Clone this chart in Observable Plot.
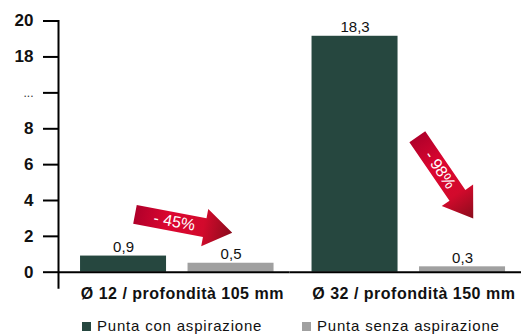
<!DOCTYPE html>
<html>
<head>
<meta charset="utf-8">
<script src="https://cdn.jsdelivr.net/npm/d3@7"></script>
<script src="https://cdn.jsdelivr.net/npm/@observablehq/plot@0.6"></script>
<style>
  html, body { margin: 0; padding: 0; background: #fff; }
  body { font-family: "Liberation Sans", Arial, Helvetica, sans-serif; }
  #wrap { width: 531px; height: 335px; position: relative; overflow: hidden; }
  #wrap svg { display: block; }
  [aria-label="fx-axis tick label"] text { letter-spacing: 0.5px; }
  .legend { position: relative; width: 531px; height: 27px; }
  .sw { position: absolute; width: 9px; height: 9px; top: 14px; }
  .lt { position: absolute; top: 10px; font-size: 15px; line-height: 15px; letter-spacing: 0.8px; color: #111; white-space: nowrap; }
</style>
</head>
<body>
<div id="wrap"></div>
<script>
// ---- data ----
const groups = ["Ø 12 / profondità 105 mm", "Ø 32 / profondità 150 mm"];
const series = ["Punta con aspirazione", "Punta senza aspirazione"];
const withSuction = [0.9, 18.3];
const withoutSuction = [0.5, 0.3];
const seriesColors = ["#26473f", "#a0a0a0"];
const yTickValues = [0, 2, 4, 6, 8, 16, 20];
const yTickLabels = ["0", "2", "4", "6", "8", "18", "20"];
const yBreakValue = [12];
const yBreakLabel = ["..."];
const arrowLabels = ["- 45%", "- 98%"];
const arrowTipValues = [2.2, 3.0];
const arrowAngles = [100.7, 145.6];
const arrowNudge = [1.2, 10.7];

const FONT = "Liberation Sans, Arial, Helvetica, sans-serif";
const rows = groups.flatMap((g, i) => [
  {group: g, kind: series[0], value: withSuction[i]},
  {group: g, kind: series[1], value: withoutSuction[i]}
]);
const fmt = v => v.toFixed(1).replace(".", ",");
const anns = groups.map((g, i) => ({
  group: g, kind: series[1], tip: arrowTipValues[i], angle: arrowAngles[i],
  label: arrowLabels[i], nudge: arrowNudge[i]
}));

const blockArrow = {
  draw(ctx, l) {
    const w = 9.6, h = 19, hl = 28;
    ctx.moveTo(-w, 0);
    ctx.lineTo(-w, -(l - hl));
    ctx.lineTo(-h, -(l - hl));
    ctx.lineTo(0, -l);
    ctx.lineTo(h, -(l - hl));
    ctx.lineTo(w, -(l - hl));
    ctx.lineTo(w, 0);
    ctx.closePath();
  }
};

const arrowMarks = anns.flatMap(a => {
  const t = a.angle * Math.PI / 180;
  const back = 59;
  return [
    Plot.vector([a], {
      fx: "group", x: "kind", y: "tip", length: 99, rotate: a.angle, anchor: "end",
      shape: blockArrow, fill: "url(#arrowGrad)", stroke: "none", dx: a.nudge
    }),
    Plot.text([a], {
      fx: "group", x: "kind", y: "tip", text: "label", rotate: a.angle - 90,
      dx: a.nudge - back * Math.sin(t), dy: back * Math.cos(t),
      fill: "#fff", fontSize: 16, textAnchor: "middle", lineAnchor: "middle"
    })
  ];
});

const chart = Plot.plot({
  width: 531,
  height: 308,
  marginLeft: 58,
  marginRight: 10,
  marginTop: 20.5,
  marginBottom: 36.3,
  style: {fontFamily: FONT, color: "#000", background: "#fff", overflow: "visible"},
  fx: {domain: groups, padding: 0, round: false, axis: null},
  x: {domain: series, paddingInner: 0.2, paddingOuter: 0.1767, align: 0.58, round: false, axis: null},
  y: {type: "linear", domain: [0, 8, 20], range: [271.7, 128.3, 20.5], axis: null},
  color: {domain: series, range: seriesColors},
  marks: [
    Plot.barY(rows, {fx: "group", x: "kind", y: "value", fill: "kind"}),
    Plot.text(rows, {fx: "group", x: "kind", y: "value", text: d => fmt(d.value),
      lineAnchor: "bottom", dy: -4, fontSize: 15, fill: "#111"}),
    Plot.ruleY([0], {stroke: "#000", strokeWidth: 2}),
    Plot.frame({anchor: "left", facetAnchor: "left", stroke: "#000", strokeWidth: 2, insetBottom: -15.5}),
    Plot.axisY({ticks: yTickValues, tickFormat: (d, i) => yTickLabels[yTickValues.indexOf(d)],
      tickSize: 15, tickPadding: 10, fontSize: 17, fontWeight: "bold", strokeWidth: 2,
      stroke: "#000", fill: "#111", label: null}),
    Plot.axisY({ticks: yBreakValue, tickFormat: () => yBreakLabel[0],
      tickSize: 15, tickPadding: 10, fontSize: 12, strokeWidth: 2,
      stroke: "#000", fill: "#333", label: null}),
    Plot.axisFx({anchor: "bottom", tickSize: 0, tickPadding: 15.7, fontSize: 16, fontWeight: "bold",
      textAnchor: "start", dx: -93.5, fill: "#111", label: null}),
    ...arrowMarks
  ]
});

// gradient for the arrows
const NS = "http://www.w3.org/2000/svg";
const defs = document.createElementNS(NS, "defs");
const grad = document.createElementNS(NS, "linearGradient");
grad.setAttribute("id", "arrowGrad");
grad.setAttribute("x1", "0"); grad.setAttribute("y1", "1");
grad.setAttribute("x2", "0"); grad.setAttribute("y2", "0");
[["0", "#b0002a"], ["0.35", "#dc0630"], ["0.7", "#d20a2c"], ["1", "#8a0c1c"]].forEach(([o, c]) => {
  const s = document.createElementNS(NS, "stop");
  s.setAttribute("offset", o); s.setAttribute("stop-color", c);
  grad.appendChild(s);
});
defs.appendChild(grad);
chart.insertBefore(defs, chart.firstChild);

const wrap = document.getElementById("wrap");
wrap.appendChild(chart);

// legend
const legend = document.createElement("div");
legend.className = "legend";
const swX = [82, 302.3];
const txX = [97, 317];
series.forEach((s, i) => {
  const sw = document.createElement("span");
  sw.className = "sw"; sw.style.left = swX[i] + "px"; sw.style.background = seriesColors[i];
  const t = document.createElement("span");
  t.className = "lt"; t.style.left = txX[i] + "px"; t.textContent = s;
  legend.appendChild(sw); legend.appendChild(t);
});
wrap.appendChild(legend);
</script>
</body>
</html>
